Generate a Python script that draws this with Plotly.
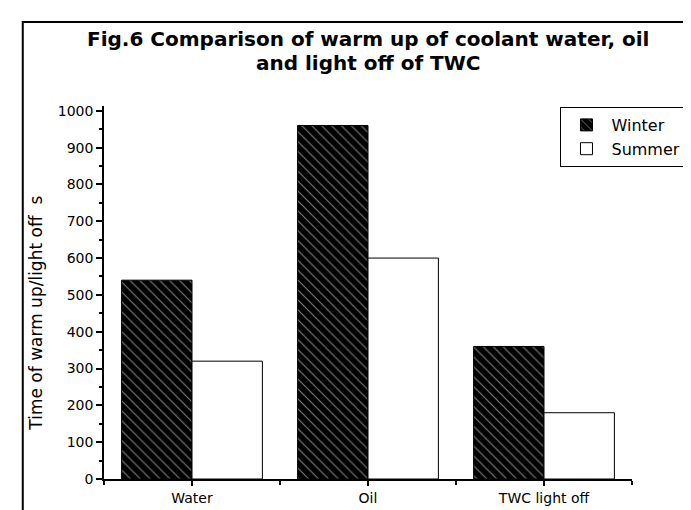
import plotly.graph_objects as go

categories = ["Water", "Oil", "TWC light off"]
winter = [540, 960, 360]
summer = [320, 600, 180]
y_ticks = [0, 100, 200, 300, 400, 500, 600, 700, 800, 900, 1000]

FONT = "DejaVu Sans"
W, H = 691, 510
L, R, T, B = 96, 62, 98, 30
pw, ph = W - L - R, H - T - B

def px(x):
    return (x - L) / pw

def py(y):
    return (H - B - y) / ph

xs = list(range(len(categories)))

fig = go.Figure()
fig.add_trace(go.Bar(
    x=xs, y=winter, name="Winter",
    marker=dict(color="black", line=dict(color="black", width=1),
                pattern=dict(shape="\\", bgcolor="black", fgcolor="white",
                             size=7, solidity=0.16)),
))
fig.add_trace(go.Bar(
    x=xs, y=summer, name="Summer",
    marker=dict(color="white", line=dict(color="black", width=1)),
))

fig.update_layout(
    width=W, height=H,
    margin=dict(l=L, r=R, t=T, b=B),
    paper_bgcolor="white", plot_bgcolor="white",
    barmode="group", bargap=0.2, bargroupgap=0,
    font=dict(family=FONT, color="black", size=14),
    showlegend=True,
    legend=dict(x=px(684), xanchor="right", y=py(99), yanchor="top",
                bordercolor="black", borderwidth=1, bgcolor="white",
                font=dict(family=FONT, size=16), tracegroupgap=0,
                itemwidth=40),
    xaxis=dict(range=[-0.5, 2.5], tickmode="array", tickvals=xs, ticktext=categories,
               showline=True, linecolor="black", linewidth=1.5,
               ticks="outside", ticklen=5, tickwidth=1.5, tickcolor="black",
               showgrid=False, zeroline=False,
               tickfont=dict(family=FONT, size=14),
               minor=dict(tickmode="linear", tick0=0.5, dtick=1, ticks="outside",
                          ticklen=4, tickwidth=1.5, tickcolor="black", showgrid=False)),
    yaxis=dict(range=[0, 1013], tickmode="array", tickvals=y_ticks,
               showline=True, linecolor="black", linewidth=1.5,
               ticks="outside", ticklen=6, tickwidth=1.5, tickcolor="black",
               showgrid=False, zeroline=False,
               tickfont=dict(family=FONT, size=14),
               minor=dict(tickmode="linear", tick0=50, dtick=100, ticks="outside",
                          ticklen=3, tickwidth=1.5, tickcolor="black", showgrid=False)),
)

# title (two lines)
fig.add_annotation(text="<b>Fig.6 Comparison of warm up of coolant water, oil</b>",
                   xref="paper", yref="paper", x=0.5, y=py(29), xanchor="center",
                   yanchor="middle", showarrow=False,
                   font=dict(family=FONT, size=20, color="black"))
fig.add_annotation(text="<b>and light off of TWC</b>",
                   xref="paper", yref="paper", x=0.5, y=py(54), xanchor="center",
                   yanchor="middle", showarrow=False,
                   font=dict(family=FONT, size=20, color="black"))
# y axis title
fig.add_annotation(text="Time of warm up/light off  s",
                   xref="paper", yref="paper", x=px(27), y=py(310), xanchor="center",
                   yanchor="middle", textangle=-90, showarrow=False,
                   font=dict(family=FONT, size=17, color="black"))

# outer frame
fig.add_shape(type="rect", xref="paper", yref="paper",
              x0=px(14), x1=px(687), y0=py(560), y1=py(12),
              line=dict(color="black", width=2), layer="above")
fig.add_shape(type="line", xref="paper", yref="paper",
              x0=px(688), x1=px(688), y0=py(560), y1=py(11),
              line=dict(color="black", width=4), layer="above")

fig.write_html("out.html")
